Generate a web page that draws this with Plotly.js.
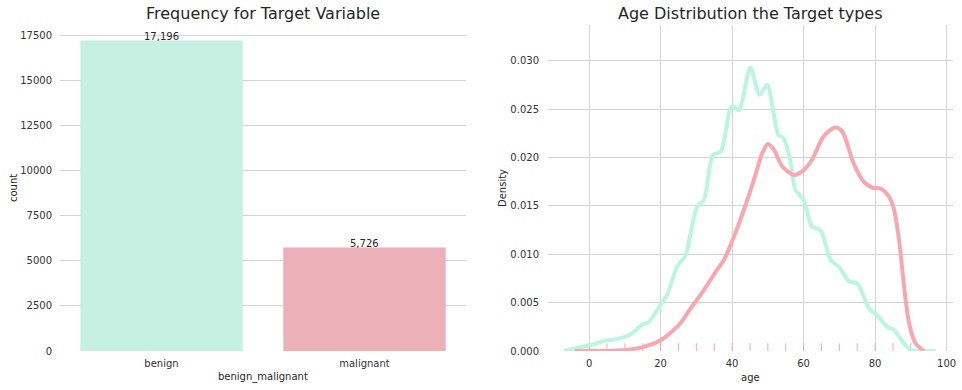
<!DOCTYPE html>
<html>
<head>
<meta charset="utf-8">
<script src="https://cdn.plot.ly/plotly-3.0.1.min.js"></script>
<style>html,body{margin:0;padding:0;background:#fff;}#chart{width:962px;height:390px;}</style>
</head>
<body>
<div id="chart"></div>
<script>
// ---- Data ----
const categories = ["benign", "malignant"];
const counts = [17196, 5726];

const benignAge = [-7, 0, 4.9, 7.3, 11.5, 14.8, 16.7, 20, 21.8, 24.6, 27, 28.4, 30.2, 32.1, 34.7, 36.8, 39.5, 40.2, 41.9, 45.1, 47.7, 49.8, 51.7, 53, 54.4, 56.2, 57.7, 60, 62.3, 64.7, 67.6, 69.9, 72.7, 75, 78.3, 80.6, 83.4, 85.3, 87.6, 90, 92, 97];
const benignDensity = [0, 0.0006, 0.0011, 0.0012, 0.0017, 0.0027, 0.0030, 0.0048, 0.0058, 0.0087, 0.0099, 0.0122, 0.0149, 0.0156, 0.0203, 0.0206, 0.0251, 0.0253, 0.0249, 0.0293, 0.0265, 0.0275, 0.0244, 0.0223, 0.0220, 0.0198, 0.0167, 0.0156, 0.0129, 0.0125, 0.0094, 0.0087, 0.0072, 0.0070, 0.0044, 0.0037, 0.0025, 0.0022, 0.0010, 0.0001, 0, 0];

const malignantAge = [-4, 5, 10, 15, 20, 22.8, 25.6, 28.4, 32.1, 35.8, 37.7, 40.5, 43.3, 46.1, 48.4, 50, 51.7, 54, 57.3, 60, 62.4, 65.6, 68.9, 70.8, 74, 76.8, 79.2, 81.5, 83.8, 85.3, 86.7, 88.1, 89.5, 91.3, 93.7];
const malignantDensity = [0, 0, 0.0001, 0.0004, 0.0011, 0.0019, 0.0029, 0.0044, 0.0063, 0.0084, 0.0094, 0.0118, 0.0146, 0.0177, 0.0204, 0.0214, 0.0208, 0.0191, 0.0182, 0.0187, 0.0198, 0.0222, 0.0231, 0.0227, 0.0194, 0.0175, 0.0169, 0.0168, 0.0160, 0.0146, 0.0115, 0.0067, 0.0029, 0.0008, 0];

const rugAges = [0, 5, 10, 15, 20, 25, 30, 35, 40, 45, 50, 55, 60, 65, 70, 75, 80, 85, 90];
const rugHeight = 0.0008;

const leftYTicks = [0, 2500, 5000, 7500, 10000, 12500, 15000, 17500];
const rightXTicks = [0, 20, 40, 60, 80, 100];
const rightYTicks = [0, 0.005, 0.010, 0.015, 0.020, 0.025, 0.030];

// ---- Build ----
const FONT = "DejaVu Sans, sans-serif";
const mintBar = "#c5f0e2", redBar = "#ecb0b8";
const mintLine = "#b9f5e1", redLine = "#f9a7ae";

const rugX = [], rugY = [];
rugAges.forEach(a => { rugX.push(a, a, null); rugY.push(0, rugHeight, null); });

const traces = [
  {type: "bar", x: categories, y: counts, width: 0.8,
   marker: {color: [mintBar, redBar], line: {width: 0}},
   xaxis: "x", yaxis: "y", hoverinfo: "x+y", showlegend: false},
  {type: "scatter", mode: "lines", x: rugX, y: rugY, xaxis: "x2", yaxis: "y2",
   line: {color: redLine, width: 1}, showlegend: false, hoverinfo: "skip"},
  {type: "scatter", mode: "lines", x: benignAge, y: benignDensity, xaxis: "x2", yaxis: "y2",
   line: {color: mintLine, width: 4, shape: "spline", smoothing: 0.8}, showlegend: false},
  {type: "scatter", mode: "lines", x: malignantAge, y: malignantDensity, xaxis: "x2", yaxis: "y2",
   line: {color: redLine, width: 4, shape: "spline", smoothing: 0.8}, showlegend: false}
];

const W = 962, H = 390;
const py0 = 1 - 351 / H, py1 = 1 - 25 / H;
const tickFont = {family: FONT, size: 10, color: "#333333"};
const gridColor = "#d4d4d4";

const annotations = [];
categories.forEach((c, i) => {
  annotations.push({xref: "x", yref: "y", x: c, y: counts[i], text: counts[i].toLocaleString("en-US"),
    showarrow: false, yanchor: "bottom", yshift: -3, font: {family: FONT, size: 10, color: "#262626"}});
});
function ann(x, y, text, size, rot) {
  annotations.push({xref: "paper", yref: "paper", x: x / W, y: 1 - y / H, text: text, showarrow: false,
    xanchor: "center", yanchor: "middle", textangle: rot || 0,
    font: {family: FONT, size: size, color: "#262626"}});
}
ann(263, 14, "Frequency for Target Variable", 16);
ann(750, 14, "Age Distribution the Target types", 16);
ann(263, 377, "benign_malignant", 10);
ann(13, 188, "count", 10, -90);
ann(750, 377, "age", 10);
ann(502, 188, "Density", 10, -90);

const layout = {
  width: W, height: H,
  margin: {l: 0, r: 0, t: 0, b: 0},
  paper_bgcolor: "#ffffff", plot_bgcolor: "#ffffff",
  showlegend: false,
  font: {family: FONT, color: "#262626"},
  xaxis: {domain: [60 / W, 466 / W], anchor: "y", type: "category", range: [-0.5, 1.5],
    showgrid: false, zeroline: false, showline: false, ticks: "", tickfont: tickFont, ticklabelstandoff: 5},
  yaxis: {domain: [py0, py1], anchor: "x", range: [0, 18056], tickvals: leftYTicks,
    ticktext: leftYTicks.map(String), showgrid: true, gridcolor: gridColor, gridwidth: 1,
    zeroline: false, showline: false, ticks: "", tickfont: tickFont, ticklabelstandoff: 7},
  xaxis2: {domain: [548 / W, 953 / W], anchor: "y2", range: [-11.5, 101.8], tickvals: rightXTicks,
    showgrid: true, gridcolor: gridColor, gridwidth: 1, zeroline: false, showline: false, ticks: "",
    tickfont: tickFont, ticklabelstandoff: 5},
  yaxis2: {domain: [py0, py1], anchor: "x2", range: [0, 0.0337], tickvals: rightYTicks,
    ticktext: rightYTicks.map(v => v.toFixed(3)), showgrid: true, gridcolor: gridColor, gridwidth: 1,
    zeroline: false, showline: false, ticks: "", tickfont: tickFont, ticklabelstandoff: 8},
  annotations: annotations
};

Plotly.newPlot("chart", traces, layout, {displayModeBar: false, staticPlot: true});
</script>
</body>
</html>
